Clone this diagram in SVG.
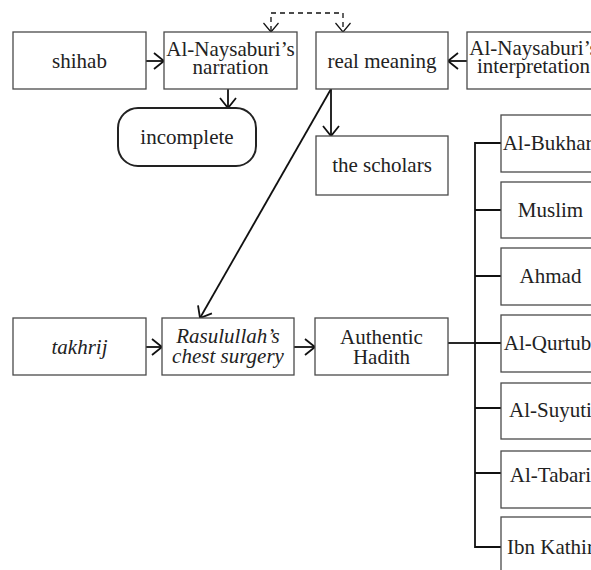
<svg xmlns="http://www.w3.org/2000/svg" width="591" height="570" viewBox="0 0 591 570">
<defs>
<style>
.box{fill:#fff;stroke:#4a4a4a;stroke-width:1.3}
.rbox{fill:#fff;stroke:#222;stroke-width:2}
.t{font-family:"Liberation Serif","Times New Roman",serif;font-size:21px;fill:#222;text-anchor:middle}
.i{font-style:italic}
.c{fill:none;stroke:#111;stroke-width:1.8}
.d{fill:none;stroke:#111;stroke-width:1.3;stroke-dasharray:5 4}
</style>
<marker id="ah" viewBox="-12 -10 14 20" refX="0" refY="0" markerWidth="14" markerHeight="20" markerUnits="userSpaceOnUse" orient="auto">
<path d="M-10,-8 L0,0 L-10,8" fill="none" stroke="#111" stroke-width="1.8"/>
</marker>
<marker id="ahd" viewBox="-12 -10 14 20" refX="0" refY="0" markerWidth="14" markerHeight="20" markerUnits="userSpaceOnUse" orient="auto">
<path d="M-9,-7.5 L0,0 L-9,7.5" fill="none" stroke="#111" stroke-width="1.2"/>
</marker>
</defs>
<rect width="591" height="570" fill="#fff"/>
<g id="connectors">
<line class="c" x1="146" y1="61" x2="164" y2="61" marker-end="url(#ah)"/>
<line class="c" x1="467" y1="61" x2="448" y2="61" marker-end="url(#ah)"/>
<line class="c" x1="228" y1="89" x2="228" y2="108" marker-end="url(#ah)"/>
<line class="c" x1="331" y1="89" x2="331" y2="136" marker-end="url(#ah)"/>
<line class="c" x1="331" y1="89" x2="200" y2="318" marker-end="url(#ah)"/>
<path class="d" d="M271,31 V13 H343 V31"/>
<line x1="271" y1="20" x2="271" y2="32" stroke="none" marker-end="url(#ahd)"/>
<line x1="343" y1="20" x2="343" y2="32" stroke="none" marker-end="url(#ahd)"/>
<line class="c" x1="146" y1="347" x2="162" y2="347" marker-end="url(#ah)"/>
<line class="c" x1="294" y1="347" x2="315" y2="347" marker-end="url(#ah)"/>
<line class="c" x1="448" y1="343" x2="475" y2="343"/>
<path class="c" d="M501,143 H475 V547 H501"/>
<path class="c" d="M475,210 H501 M475,276 H501 M475,343 H501 M475,408 H501 M475,473 H501"/>
</g>
<g id="shihab"><rect class="box" x="13" y="32" width="133" height="57"/><text class="t" x="79.5" y="68">shihab</text></g>
<g id="narration"><rect class="box" x="164" y="32" width="133" height="57"/><text class="t" x="230.5" y="55.5">Al-Naysaburi’s</text><text class="t" x="230.5" y="73.5">narration</text></g>
<g id="real-meaning"><rect class="box" x="316" y="32" width="132" height="57"/><text class="t" x="382" y="68">real meaning</text></g>
<g id="interpretation"><rect class="box" x="467" y="32" width="133" height="57"/><text class="t" x="533.5" y="55">Al-Naysaburi’s</text><text class="t" x="533.5" y="73">interpretation</text></g>
<g id="incomplete"><rect class="rbox" x="118" y="108" width="138" height="58" rx="20"/><text class="t" x="187" y="144">incomplete</text></g>
<g id="scholars"><rect class="box" x="316" y="136" width="132" height="59"/><text class="t" x="382" y="172">the scholars</text></g>
<g id="takhrij"><rect class="box" x="13" y="318" width="133" height="57"/><text class="t i" x="79.5" y="353.5">takhrij</text></g>
<g id="rasulullah"><rect class="box" x="162" y="318" width="132" height="57"/><text class="t i" x="228" y="343">Rasulullah’s</text><text class="t i" x="228" y="362.5">chest surgery</text></g>
<g id="authentic"><rect class="box" x="315" y="318" width="133" height="57"/><text class="t" x="381.5" y="344">Authentic</text><text class="t" x="381.5" y="363.5">Hadith</text></g>
<g id="bukhari"><rect class="box" x="501" y="115" width="99" height="57"/><text class="t" x="550.5" y="150">Al-Bukhari</text></g>
<g id="muslim"><rect class="box" x="501" y="182" width="99" height="56"/><text class="t" x="550.5" y="217">Muslim</text></g>
<g id="ahmad"><rect class="box" x="501" y="248" width="99" height="57"/><text class="t" x="550.5" y="283">Ahmad</text></g>
<g id="qurtubi"><rect class="box" x="501" y="315" width="99" height="57"/><text class="t" x="550.5" y="350">Al-Qurtubi</text></g>
<g id="suyuti"><rect class="box" x="501" y="383" width="99" height="56"/><text class="t" x="550.5" y="417">Al-Suyuti</text></g>
<g id="tabari"><rect class="box" x="501" y="451" width="99" height="57"/><text class="t" x="550.5" y="482">Al-Tabari</text></g>
<g id="ibn-kathir"><rect class="box" x="501" y="517" width="99" height="57"/><text class="t" x="550.5" y="554">Ibn Kathir</text></g>
</svg>
